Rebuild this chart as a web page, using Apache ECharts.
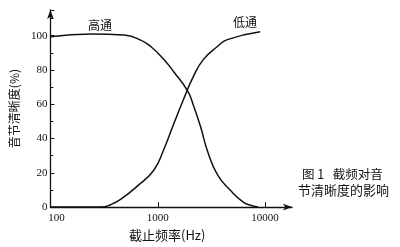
<!DOCTYPE html>
<html><head><meta charset="utf-8">
<script src="https://cdn.jsdelivr.net/npm/echarts@6/dist/echarts.min.js"></script>
<style>html,body{margin:0;padding:0;background:#fff}#c{width:400px;height:247px}</style>
</head><body><div id="c"></div>
<script>
const highFreq = [100, 240, 484, 700, 861, 1136, 1407, 1896, 2154, 2501, 2904, 3594, 4742, 6254, 7585, 8600];
const highVal  = [99.4, 101, 100.4, 97.3, 93.7, 86.2, 79, 67.8, 59.2, 47, 32.8, 19, 9.8, 2.9, 0.8, 0];
const lowFreq  = [100, 297, 367, 454, 653, 918, 1136, 1407, 1703, 2154, 2667, 3594, 4446, 8990];
const lowVal   = [0, 0, 1.5, 4.6, 12.5, 21.5, 33.5, 48.5, 61.5, 76.4, 86.2, 93.7, 97.7, 102.3];
const yTicks = [0, 20, 40, 60, 80, 100];
const xTicks = [100, 1000, 10000];

const font = '"Liberation Serif", "DejaVu Serif", serif';
const cjk = '"Noto Sans CJK SC", sans-serif';
const chart = echarts.init(document.getElementById('c'), null, {renderer: 'canvas'});
chart.setOption({
  animation: false,
  backgroundColor: '#fff',
  grid: {left: 49, right: 108, top: 10, bottom: 37},
  xAxis: {
    type: 'log', logBase: 10, min: 100, max: 17800,
    axisLine: {lineStyle: {color: '#111', width: 1.3}, symbol: ['none', 'arrow'], symbolSize: [5, 9]},
    axisTick: {inside: true, length: 5, lineStyle: {color: '#111'}},
    minorTick: {show: false},
    splitLine: {show: false},
    axisLabel: {
      color: '#111', fontFamily: font, fontSize: 11, margin: 6,
      formatter: v => {
        const r = Math.round(v);
        if (!xTicks.includes(r)) return '';
        return r === 100 ? '{a|' + r + '}' : String(r);
      },
      rich: {a: {fontFamily: font, fontSize: 11, color: '#111', padding: [0, 0, 0, 12]}},
      showMaxLabel: false
    },
    name: '截止频率(Hz)', nameLocation: 'middle', nameGap: 19,
    nameTextStyle: {color: '#111', fontFamily: cjk, fontSize: 13, padding: [0, 8, 0, 0]}
  },
  yAxis: {
    type: 'value', min: 0, max: 115, interval: 20,
    axisLine: {show: true, lineStyle: {color: '#111', width: 1.3}, symbol: ['none', 'arrow'], symbolSize: [5, 9]},
    axisTick: {inside: true, length: 4, lineStyle: {color: '#111'}},
    minorTick: {show: true, splitNumber: 2, length: 3, lineStyle: {color: '#111'}},
    splitLine: {show: false},
    axisLabel: {
      color: '#111', fontFamily: font, fontSize: 11, margin: 3,
      formatter: v => yTicks.includes(v) ? String(v) : ''
    },
    name: '音节清晰度(%)', nameLocation: 'middle', nameGap: 14, nameRotate: 90,
    nameTextStyle: {color: '#111', fontFamily: cjk, fontSize: 12}
  },
  series: [
    {type: 'line', smooth: 0.5, symbol: 'none', data: highFreq.map((f, i) => [f, highVal[i]]),
     lineStyle: {color: '#111', width: 1.5}},
    {type: 'line', smooth: 0.5, symbol: 'none', data: lowFreq.map((f, i) => [f, lowVal[i]]),
     lineStyle: {color: '#111', width: 1.5}}
  ],
  graphic: [
    {type: 'text', left: 88, top: 19, style: {text: '高通', font: '12px ' + cjk, fill: '#111'}},
    {type: 'text', left: 233, top: 16, style: {text: '低通', font: '12px ' + cjk, fill: '#111'}},
    {type: 'text', left: 302, top: 168, style: {text: '图 1   截频对音', font: '12.5px ' + cjk, fill: '#111'}},
    {type: 'text', left: 298, top: 184, style: {text: '节清晰度的影响', font: '13px ' + cjk, fill: '#111'}}
  ]
});
</script></body></html>
